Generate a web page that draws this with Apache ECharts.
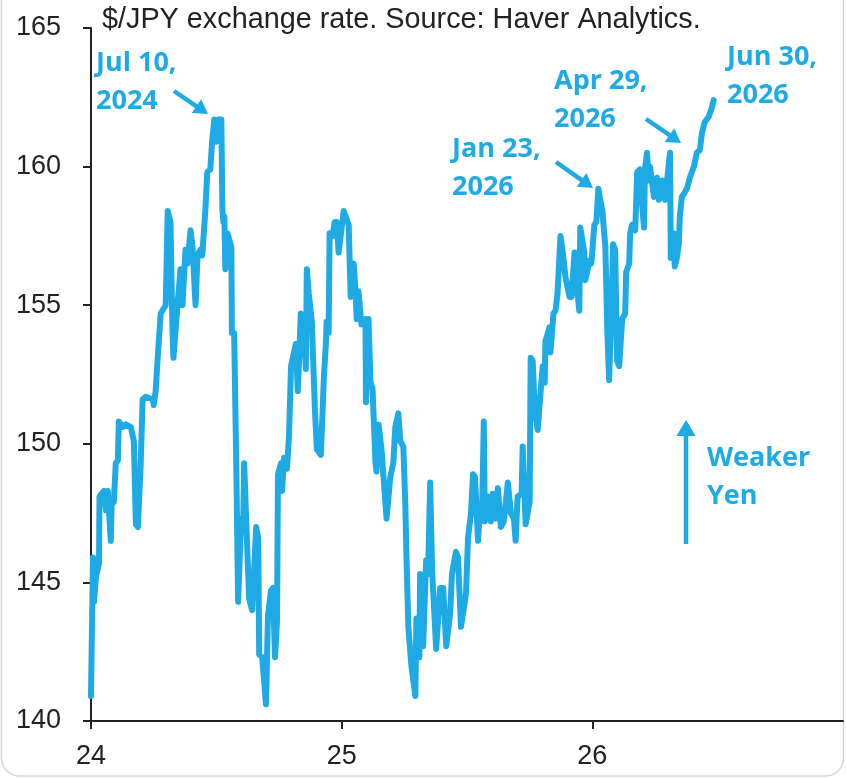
<!DOCTYPE html>
<html><head><meta charset="utf-8">
<script src="https://cdn.jsdelivr.net/npm/echarts@6/dist/echarts.min.js"></script>
<style>html,body{margin:0;padding:0;background:#fff}#c{width:846px;height:779px}</style>
</head><body><div id="c"></div>
<script>
// decimal year (24 = Jan 1 2024)
const years = [24.000,24.008,24.012,24.020,24.032,24.034,24.052,24.060,24.067,24.079,24.083,24.091,24.099,24.107,24.111,24.127,24.139,24.159,24.171,24.179,24.187,24.198,24.206,24.218,24.246,24.250,24.258,24.266,24.278,24.298,24.306,24.317,24.325,24.329,24.345,24.357,24.365,24.377,24.385,24.397,24.405,24.417,24.425,24.437,24.444,24.456,24.464,24.476,24.484,24.492,24.500,24.508,24.520,24.524,24.528,24.532,24.536,24.544,24.560,24.562,24.571,24.579,24.587,24.599,24.607,24.611,24.623,24.631,24.643,24.659,24.667,24.671,24.683,24.698,24.706,24.718,24.726,24.734,24.742,24.746,24.758,24.762,24.770,24.782,24.790,24.798,24.810,24.817,24.825,24.829,24.837,24.849,24.857,24.861,24.869,24.881,24.893,24.901,24.917,24.929,24.937,24.940,24.948,24.952,24.964,24.972,24.980,24.988,24.996,25.008,25.020,25.028,25.036,25.048,25.056,25.060,25.067,25.079,25.095,25.097,25.107,25.115,25.123,25.135,25.139,25.147,25.159,25.175,25.179,25.194,25.206,25.214,25.226,25.234,25.246,25.254,25.258,25.266,25.278,25.294,25.298,25.310,25.313,25.325,25.337,25.345,25.353,25.361,25.377,25.393,25.405,25.417,25.433,25.440,25.456,25.464,25.476,25.496,25.504,25.516,25.524,25.532,25.544,25.552,25.560,25.567,25.571,25.583,25.595,25.603,25.615,25.623,25.635,25.647,25.663,25.675,25.687,25.694,25.702,25.718,25.722,25.734,25.750,25.754,25.762,25.770,25.782,25.794,25.802,25.810,25.813,25.829,25.833,25.845,25.853,25.861,25.873,25.881,25.893,25.909,25.917,25.929,25.937,25.948,25.952,25.968,25.972,25.988,25.996,26.008,26.016,26.024,26.040,26.052,26.060,26.067,26.075,26.083,26.091,26.099,26.107,26.119,26.131,26.135,26.147,26.151,26.159,26.171,26.179,26.190,26.198,26.206,26.210,26.218,26.226,26.230,26.246,26.258,26.266,26.278,26.290,26.298,26.310,26.313,26.325,26.329,26.337,26.345,26.349,26.357,26.377,26.389,26.405,26.417,26.429,26.437,26.448,26.464,26.476,26.484];
const usdjpy = [140.9,145.9,144.3,145.2,145.7,148.1,148.3,147.6,148.3,146.5,148.0,147.9,149.3,149.4,150.8,150.6,150.7,150.6,150.1,147.1,147.0,149.2,151.6,151.7,151.6,151.4,151.9,153.1,154.7,155.0,158.4,158.0,154.1,153.1,155.0,156.3,155.0,157.0,156.5,157.7,157.1,155.0,156.8,157.0,156.8,158.4,159.8,159.9,161.0,161.7,160.9,161.7,161.7,158.5,158.0,158.2,156.3,157.6,157.1,154.0,154.0,149.6,144.3,147.3,147.0,149.3,146.3,144.4,144.0,147.0,146.6,142.4,142.3,140.6,143.8,144.7,144.8,142.3,143.6,148.9,149.3,148.3,149.5,149.1,150.3,152.8,153.3,153.6,151.9,152.8,154.7,154.2,152.7,156.3,155.4,154.4,151.3,149.8,149.6,152.4,153.6,154.4,154.0,157.6,157.5,158.0,158.0,156.9,157.5,158.4,158.1,157.9,155.3,156.5,155.4,154.5,155.5,154.3,154.5,151.5,154.5,152.2,152.0,149.3,149.0,150.7,149.8,147.8,147.3,148.8,149.3,150.6,151.1,150.1,149.9,147.8,146.1,143.4,142.0,140.9,143.7,142.3,145.3,142.7,145.8,145.3,148.6,145.4,142.6,144.8,144.8,142.7,143.9,145.3,146.1,145.9,143.4,144.6,146.6,147.5,148.9,148.8,146.5,147.7,147.4,150.8,147.2,148.1,147.2,148.2,147.3,148.4,147.0,147.2,148.6,147.5,147.3,146.5,148.1,148.2,149.9,147.1,147.9,153.1,153.0,151.3,150.5,151.9,152.8,152.2,153.7,154.2,153.3,154.7,154.8,155.4,157.5,157.0,156.0,155.3,155.3,156.9,155.8,154.8,157.8,156.9,155.9,156.6,156.5,157.9,158.0,159.2,158.4,157.1,154.0,152.3,154.5,157.2,157.0,153.0,152.8,154.5,154.7,156.2,156.5,157.6,157.9,157.7,159.8,159.9,158.7,157.8,159.9,160.5,159.5,160.0,158.9,159.6,158.8,159.5,158.8,159.5,160.5,156.7,157.6,156.4,156.7,157.2,158.2,158.9,159.2,159.6,160.0,160.5,160.6,161.2,161.6,161.8,162.1,162.4];
const yTicks = {min: 140, max: 165, step: 5};
const xTicks = {min: 24, max: 27, step: 1};
const titleText = '$/JPY exchange rate. Source: Haver Analytics.';

const BLUE = '#1eabe5';
const chart = echarts.init(document.getElementById('c'), null, {renderer: 'canvas'});

function arrow(x1, y1, x2, y2, head, w) {
  const dx = x2 - x1, dy = y2 - y1, L = Math.hypot(dx, dy);
  const ux = dx / L, uy = dy / L, px = -uy, py = ux;
  const bx = x2 - ux * head, by = y2 - uy * head;
  return [
    {type: 'line', shape: {x1: x1, y1: y1, x2: bx + ux * 2, y2: by + uy * 2}, style: {stroke: BLUE, lineWidth: w}},
    {type: 'polygon', shape: {points: [[x2, y2], [bx + px * head * 0.6, by + py * head * 0.6], [bx - px * head * 0.6, by - py * head * 0.6]]}, style: {fill: BLUE}}
  ];
}
const annFont = 'bold 27px "Open Sans", sans-serif';
function label(x, y, t) {
  return {type: 'text', left: x, top: y, style: {text: t, font: annFont, fill: BLUE, lineHeight: 38}};
}

const graphics = [
  {type: 'rect', shape: {x: 1.5, y: -30, width: 842, height: 806, r: 18}, style: {fill: 'none', stroke: '#d6d6d6', lineWidth: 1.5}, z: -1},
  {type: 'text', left: 102, top: 6, style: {text: titleText, font: '28.8px "Liberation Sans", Arial, sans-serif', fill: '#222'}},
  label(96, 44, 'Jul 10,\n2024'),
  label(554, 62, 'Apr 29,\n2026'),
  label(452, 130, 'Jan 23,\n2026'),
  label(727, 38, 'Jun 30,\n2026'),
  label(707, 439, 'Weaker\nYen'),
  ...arrow(174, 91, 208, 114, 14, 4.5),
  ...arrow(646, 119, 681, 143, 14, 4.5),
  ...arrow(556, 162, 593, 188, 14, 4.5),
  ...arrow(686, 544, 686, 420, 16, 4.5)
];

chart.setOption({
  animation: false,
  backgroundColor: '#fff',
  grid: {left: 91, right: 3, top: 28, bottom: 58, containLabel: false},
  xAxis: {
    type: 'value', min: xTicks.min, max: xTicks.max, interval: xTicks.step,
    axisLine: {show: true, onZero: false, lineStyle: {color: '#222', width: 2}},
    axisTick: {show: true, inside: false, length: 8, lineStyle: {color: '#222', width: 2}},
    axisLabel: {showMaxLabel: false, margin: 22, color: '#222', fontSize: 27, fontFamily: '"Liberation Sans", Arial, sans-serif',
      formatter: v => (v >= xTicks.max ? '' : String(v))},
    splitLine: {show: false}
  },
  yAxis: {
    type: 'value', min: yTicks.min, max: yTicks.max, interval: yTicks.step,
    axisLine: {show: true, lineStyle: {color: '#222', width: 2}},
    axisTick: {show: true, inside: false, length: 8, lineStyle: {color: '#222', width: 2}},
    axisLabel: {margin: 30, color: '#222', fontSize: 27, fontFamily: '"Liberation Sans", Arial, sans-serif'},
    splitLine: {show: false}
  },
  series: [{
    type: 'line', data: years.map((y, i) => [y, usdjpy[i]]),
    showSymbol: false, sampling: null, clip: true,
    lineStyle: {color: BLUE, width: 6, cap: 'round', join: 'round'}
  }],
  graphic: graphics
});
</script>
</body></html>
